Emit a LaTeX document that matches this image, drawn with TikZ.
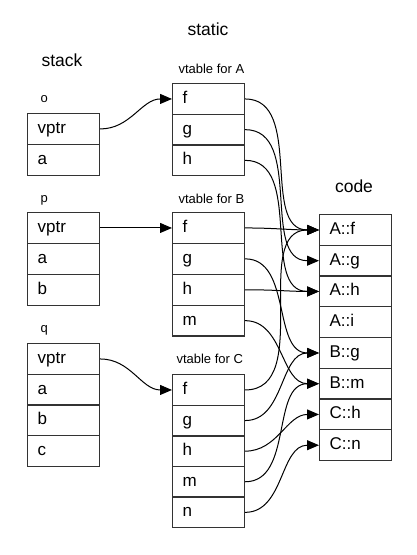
\documentclass[tikz,border=0pt]{standalone}
\usepackage{fontspec}
\setmainfont{Liberation Sans}
\usetikzlibrary{arrows.meta}
\begin{document}
\begin{tikzpicture}[x=1pt,y=-1pt,
  cell/.style={draw=black!80, line width=1.2pt, anchor=north west,
    minimum height=30.7pt, inner xsep=10pt, inner ysep=0pt, text width=52pt,
    align=left, text height=12pt, text depth=3pt, font=\fontsize{17}{20}\selectfont},
  big/.style={anchor=base, font=\fontsize{17.5}{20}\selectfont},
  small/.style={anchor=base west, font=\fontsize{13}{15}\selectfont},
  arr/.style={-{Triangle[length=12pt,width=10pt]}, line width=1pt},
  cur/.style={arr, out=0, in=180}]
\useasboundingbox (0,0) rectangle (417,555);
% titles
\node[big] (tstatic) at (208,35) {static};
\node[big] (tstack) at (62,66) {stack};
\node[big] (tcode) at (354,192) {code};
\node[small] (lo) at (37,102) {o};
\node[small] (lp) at (37,202) {p};
\node[small] (lq) at (37,332) {q};
\node[small] (lA) at (175,73) {vtable for A};
\node[small] (lB) at (175,203) {vtable for B};
\node[small] (lC) at (173,363) {vtable for C};
% stack
\foreach \t [count=\i] in {vptr,a}
  \node[cell] (o\i) at (27,{113+(\i-1)*31}) {\t};
\foreach \t [count=\i] in {vptr,a,b}
  \node[cell] (p\i) at (27,{212+(\i-1)*31}) {\t};
\foreach \t [count=\i] in {vptr,a,b,c}
  \node[cell] (q\i) at (27,{343+(\i-1)*30.7}) {\t};
% vtables
\foreach \t [count=\i] in {f,g,h}
  \node[cell] (A\t) at (172,{83+(\i-1)*30.7}) {\t};
\foreach \t [count=\i] in {f,g,h,m}
  \node[cell] (B\t) at (172,{212+(\i-1)*30.9}) {\t};
\foreach \t [count=\i] in {f,g,h,m,n}
  \node[cell] (C\t) at (172,{374+(\i-1)*30.6}) {\t};
% code
\foreach \n/\t [count=\i] in {cAf/A::f,cAg/A::g,cAh/A::h,cAi/A::i,cBg/B::g,cBm/B::m,cCh/C::h,cCn/C::n}
  \node[cell] (\n) at (319,{214+(\i-1)*30.75}) {\t};
% vptr edges
\draw[cur] (o1.east) to (Af.west);
\draw[cur] (p1.east) to (Bf.west);
\draw[cur] (q1.east) to (Cf.west);
% vtable A
\draw[cur] (Af.east) to (cAf.west);
\draw[cur] (Ag.east) to (cAg.west);
\draw[cur] (Ah.east) to (cAh.west);
% vtable B
\draw[cur] (Bf.east) to (cAf.west);
\draw[cur] (Bg.east) to (cBg.west);
\draw[cur] (Bh.east) to (cAh.west);
\draw[cur] (Bm.east) to (cBm.west);
% vtable C
\draw[cur] (Cf.east) to (cAf.west);
\draw[cur] (Cg.east) to (cBg.west);
\draw[cur] (Ch.east) to (cCh.west);
\draw[cur] (Cm.east) to (cBm.west);
\draw[cur] (Cn.east) to (cCn.west);
\end{tikzpicture}
\end{document}
